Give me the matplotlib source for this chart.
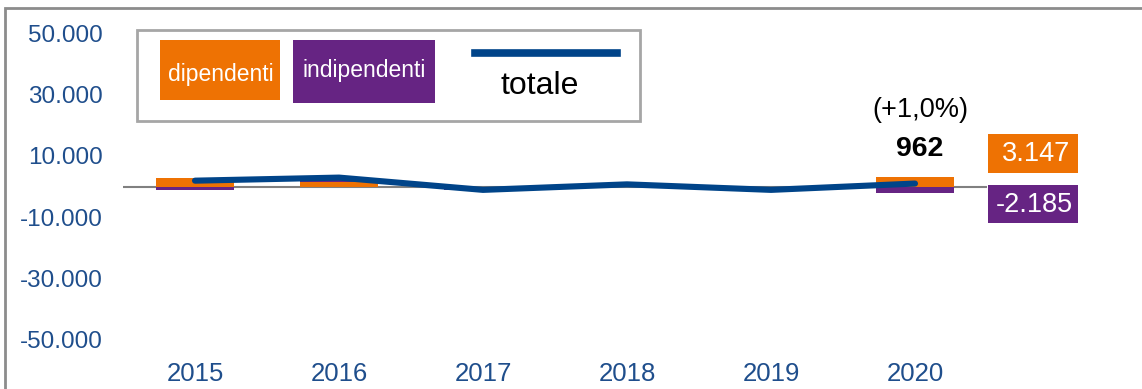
import matplotlib.pyplot as plt
from matplotlib.patches import Rectangle
from matplotlib.lines import Line2D
import numpy as np

plt.rcParams['font.family'] = ['Liberation Sans', 'DejaVu Sans']

# data
anni = ['2015', '2016', '2017', '2018', '2019', '2020']
dipendenti = [2900, 1400, -600, 500, -700, 3147]
indipendenti = [-1000, 1500, -500, 200, -400, -2185]
totale = [1900, 2900, -1100, 700, -1100, 962]
yticks = [50000, 30000, 10000, -10000, -30000, -50000]

ORANGE = '#EE7203'
PURPLE = '#662483'
BLUE = '#004489'
TICK = '#1F4E8C'

fig = plt.figure(figsize=(11.42, 3.89), dpi=100)
W, H = 1142, 389
ax = fig.add_axes([123 / W, 1 - 340 / H, (987 - 123) / W, (340 - 33) / H])

x = np.arange(len(anni))
dip = np.array(dipendenti)
ind = np.array(indipendenti)
# stacking like excel: positives over positives, negatives under negatives
ind_bottom = np.where((ind >= 0) == (dip >= 0), dip, 0)
ax.bar(x, dip, width=0.54, color=ORANGE, zorder=2)
ax.bar(x, ind, bottom=ind_bottom, width=0.54, color=PURPLE, zorder=2)
ax.axhline(0, color='#808080', lw=1.5, zorder=1)
ax.plot(x, totale, color=BLUE, lw=4.4, solid_capstyle='round',
        solid_joinstyle='round', zorder=3)

ax.set_xlim(-0.5, 5.5)
ax.set_ylim(-50000, 50000)
ax.set_yticks(yticks)
ax.set_yticklabels([f'{v:,}'.replace(',', '.') for v in yticks])
ax.set_xticks(x)
ax.set_xticklabels(anni)
ax.tick_params(axis='y', length=0, pad=14.5, labelsize=17.5, labelcolor=TICK)
ax.tick_params(axis='x', length=0, pad=16, labelsize=18.5, labelcolor=TICK)
for s in ax.spines.values():
    s.set_visible(False)

# annotations for last year
ax.text(5.035, 25000, '(+1,0%)', ha='center', va='center', fontsize=19.5)
ax.text(5.03, 12300, f'{totale[-1]}', ha='center', va='center', fontsize=20.5,
        fontweight='bold')

# right side value boxes
fig.patches.append(Rectangle((988 / W, 1 - 173 / H), 90 / W, 39 / H,
                             transform=fig.transFigure, fc=ORANGE, ec='none'))
fig.patches.append(Rectangle((988 / W, 1 - 223 / H), 90 / W, 38 / H,
                             transform=fig.transFigure, fc=PURPLE, ec='none'))
fig.text(1036 / W, 1 - 154 / H, f'{dipendenti[-1]:,}'.replace(',', '.'),
         ha='center', va='center', fontsize=19.5, color='white')
fig.text(1034 / W, 1 - 205 / H, f'{indipendenti[-1]:,}'.replace(',', '.'),
         ha='center', va='center', fontsize=19.5, color='white')

# custom legend box
fig.patches.append(Rectangle((137 / W, 1 - 121 / H), (640 - 137) / W, 91 / H,
                             transform=fig.transFigure, fill=False,
                             ec='#A6A6A6', lw=2))
fig.patches.append(Rectangle((160 / W, 1 - 100 / H), 120 / W, 60 / H,
                             transform=fig.transFigure, fc=ORANGE, ec='none'))
fig.patches.append(Rectangle((293 / W, 1 - 103 / H), 142 / W, 63 / H,
                             transform=fig.transFigure, fc=PURPLE, ec='none'))
fig.text(221 / W, 1 - 74 / H, 'dipendenti', ha='center', va='center',
         fontsize=16.5, color='white')
fig.text(364 / W, 1 - 70 / H, 'indipendenti', ha='center', va='center',
         fontsize=16.5, color='white')
fig.lines.append(Line2D([475 / W, 617 / W], [1 - 53 / H, 1 - 53 / H],
                        transform=fig.transFigure, color=BLUE, lw=5.5))
fig.text(540 / W, 1 - 86 / H, 'totale', ha='center', va='center',
         fontsize=23, color='black')

# outer frame
fig.patches.append(Rectangle((5 / W, -0.1), 1.2, 1 - 8 / H + 0.1,
                             transform=fig.transFigure, fill=False,
                             ec='#8C8C8C', lw=2))

fig.savefig('out.png', dpi=100)
